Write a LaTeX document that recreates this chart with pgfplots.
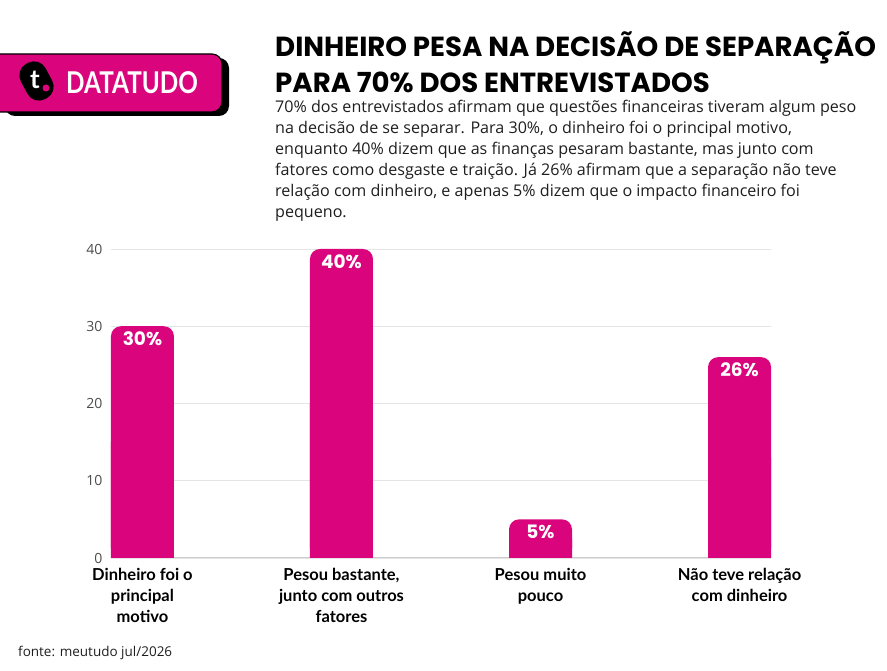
\documentclass[border=0pt]{standalone}
\usepackage{fontspec}
\setmainfont{Lato}
\newfontfamily\titlefont{Poppins}
\newfontfamily\tickfont{Open Sans}
\newfontfamily\bodyfont{Open Sans}
\usepackage{pgfplots}
\pgfplotsset{compat=1.18}
\definecolor{mag}{HTML}{DA057C}
\definecolor{txt}{HTML}{1E1E1E}
\begin{document}
\begin{tikzpicture}
\begin{scope}[x=1pt,y=1pt]
\path[use as bounding box] (0,0) rectangle (887,671);
% logo
\fill[black, rounded corners=10] (5,555) rectangle (229,613);
\fill[mag, draw=black, line width=1.2, rounded corners=10] (-12,559) rectangle (222,617);
\fill[black, rounded corners=13, rotate around={28:(36.5,590)}] (22.5,570) rectangle (50.5,610);
\node[white, font=\bfseries\fontsize{26}{26}\selectfont] at (35,591) {t};
\fill[mag] (46,583) circle (3.5);
\node[anchor=base west, white, font=\bfseries\fontsize{30}{30}\selectfont, inner sep=0] at (66,577) {\scalebox{0.81}[1]{DATATUDO}};
% title
\node[anchor=base west, inner sep=0, text=black, font=\titlefont\bfseries\fontsize{27.6}{28}\selectfont] at (275,614) {DINHEIRO PESA NA DECISÃO DE SEPARAÇÃO};
\node[anchor=base west, inner sep=0, text=black, font=\titlefont\bfseries\fontsize{27.6}{28}\selectfont] at (275,578) {PARA 70\% DOS ENTREVISTADOS};
% subtitle
\begin{scope}[every node/.style={anchor=base west, inner sep=0, text=txt, font=\bodyfont\fontsize{16.1}{21}\selectfont}]
\node at (275,558) {70\% dos entrevistados afirmam que questões financeiras tiveram algum peso};
\node at (275,537) {na decisão de se separar. Para 30\%, o dinheiro foi o principal motivo,};
\node at (275,516) {enquanto 40\% dizem que as finanças pesaram bastante, mas junto com};
\node at (275,495) {fatores como desgaste e traição. Já 26\% afirmam que a separação não teve};
\node at (275,474) {relação com dinheiro, e apenas 5\% dizem que o impacto financeiro foi};
\node at (275,453) {pequeno.};
\end{scope}
\node[anchor=base west, inner sep=0, text=txt, font=\bodyfont\fontsize{13.5}{13.5}\selectfont] at (18,14) {fonte: meutudo jul/2026};
\end{scope}
\begin{axis}[
  at={(111pt,113pt)}, anchor=south west, scale only axis,
  width=660pt, height=309pt,
  xmin=-0.158, xmax=3.158, ymin=0, ymax=40,
  ytick={0,10,20,30,40}, xtick={0,1,2,3},
  xticklabels={{Dinheiro foi o\\principal\\motivo},{Pesou bastante,\\junto com outros\\fatores},{Pesou muito\\pouco},{Não teve relação\\com dinheiro}},
  axis x line*=bottom, axis y line*=left,
  x axis line style={draw=black!20, line width=1pt, -},
  y axis line style={draw=none},
  major tick length=0pt,
  ymajorgrids, grid style={draw=black!10, line width=0.8pt},
  /pgf/number format/assume math mode=true,
  yticklabel style={font=\tickfont\fontsize{14}{14}\selectfont, text=black!70, xshift=-5pt},
  xticklabel style={align=center, font=\bfseries\fontsize{16.5}{21}\selectfont, text=black, anchor=north, yshift=-7pt},
  clip=false,
]
\addplot[ybar, bar shift=0pt, bar width=63pt, fill=mag, draw=none, rounded corners=10pt,
  nodes near coords={\pgfmathprintnumber{\pgfplotspointmeta}\%},
  every node near coord/.append style={anchor=north, text=white, font=\titlefont\bfseries\fontsize{18.5}{18.5}\selectfont, yshift=-2pt}]
  coordinates {(0,30) (1,40) (2,5) (3,26)};
\addplot[ybar, bar shift=0pt, bar width=63pt, fill=mag, draw=none, y filter/.expression={y*0.5}]
  coordinates {(0,30) (1,40) (2,5) (3,26)};
\end{axis}
\end{tikzpicture}
\end{document}
